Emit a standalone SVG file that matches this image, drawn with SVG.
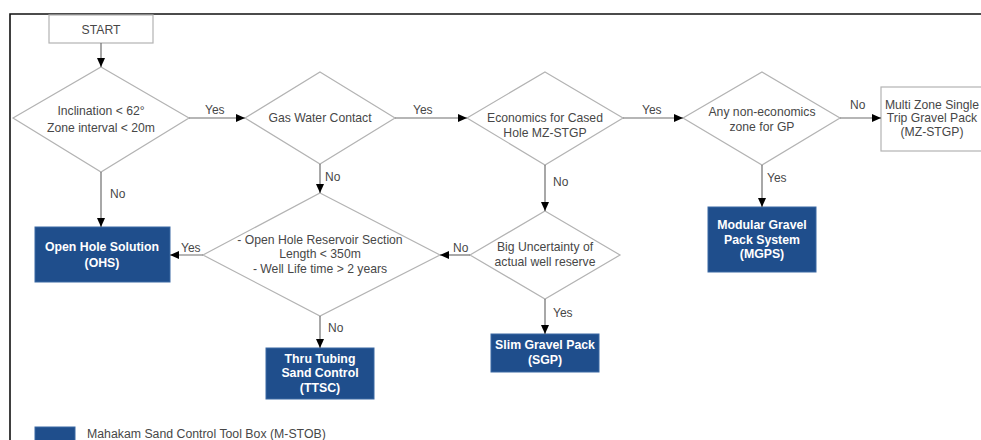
<svg xmlns="http://www.w3.org/2000/svg" width="981" height="440" viewBox="0 0 981 440">
<defs>
<marker id="arr" markerUnits="userSpaceOnUse" markerWidth="10" markerHeight="8" refX="9" refY="4" orient="auto">
<path d="M0,0 L9,4 L0,8 Z" fill="#000"/>
</marker>
<style>
.frame{fill:none;stroke:#111;stroke-width:1.6}
.dia{fill:#fff;stroke:#b3b3b3;stroke-width:1.2}
.box{fill:#fff;stroke:#b3b3b3;stroke-width:1.2}
.tool{fill:#1f4e8c;stroke:#3b68a3;stroke-width:1}
.t{font-family:"Liberation Sans",Arial,sans-serif;font-size:12.2px;fill:#474747;text-anchor:middle}
.tb{font-family:"Liberation Sans",Arial,sans-serif;font-size:12.3px;font-weight:bold;fill:#fff;text-anchor:middle}
.lbl{font-family:"Liberation Sans",Arial,sans-serif;font-size:12px;fill:#474747}
.c{fill:none;stroke:#6e6e6e;stroke-width:1.2;marker-end:url(#arr)}
.leg{font-family:"Liberation Sans",Arial,sans-serif;font-size:12.3px;fill:#474747}
</style>
</defs>
<rect width="981" height="440" fill="#fff"/>
<path class="frame" d="M10,440 L10,14 L985,14"/>

<g id="start">
<rect class="box" x="49" y="15" width="104" height="28"/>
<text class="t" x="101" y="34">START</text>
</g>
<g id="d1">
<polygon class="dia" points="101,67 189,118 101,172 13,118"/>
<text class="t" x="101" y="115">Inclination &lt; 62°</text>
<text class="t" x="101" y="132">Zone interval &lt; 20m</text>
</g>
<g id="d2">
<polygon class="dia" points="320,72 395,118 320,164 245,118"/>
<text class="t" x="320" y="122">Gas Water Contact</text>
</g>
<g id="d3">
<polygon class="dia" points="545,72 623,118 545,165 467,118"/>
<text class="t" x="545" y="122">Economics for Cased</text>
<text class="t" x="545" y="137">Hole MZ-STGP</text>
</g>
<g id="d4">
<polygon class="dia" points="762,72 840,118 762,165 683,118"/>
<text class="t" x="762" y="116">Any non-economics</text>
<text class="t" x="762" y="131">zone for GP</text>
</g>
<g id="mzstgp">
<rect class="box" x="881" y="87" width="106" height="64"/>
<text class="t" x="932" y="109">Multi Zone Single</text>
<text class="t" x="932" y="122">Trip Gravel Pack</text>
<text class="t" x="932" y="136">(MZ-STGP)</text>
</g>
<g id="mgps">
<rect class="tool" x="708" y="207" width="108" height="65"/>
<text class="tb" x="762" y="229">Modular Gravel</text>
<text class="tb" x="762" y="244">Pack System</text>
<text class="tb" x="762" y="258">(MGPS)</text>
</g>
<g id="d5">
<polygon class="dia" points="545,211 620,255 545,299 470,255"/>
<text class="t" x="545" y="251">Big Uncertainty of</text>
<text class="t" x="545" y="266">actual well reserve</text>
</g>
<g id="sgp">
<rect class="tool" x="491" y="334" width="108" height="38"/>
<text class="tb" x="545" y="349">Slim Gravel Pack</text>
<text class="tb" x="545" y="364">(SGP)</text>
</g>
<g id="d6">
<polygon class="dia" points="320,193 440,255 320,316 203,255"/>
<text class="t" x="320" y="244">- Open Hole Reservoir Section</text>
<text class="t" x="320" y="258">Length &lt; 350m</text>
<text class="t" x="320" y="273">- Well Life time &gt; 2 years</text>
</g>
<g id="ohs">
<rect class="tool" x="35" y="227" width="135" height="55"/>
<text class="tb" x="102" y="251">Open Hole Solution</text>
<text class="tb" x="102" y="267">(OHS)</text>
</g>
<g id="ttsc">
<rect class="tool" x="266" y="348" width="108" height="51"/>
<text class="tb" x="320" y="363">Thru Tubing</text>
<text class="tb" x="320" y="377">Sand Control</text>
<text class="tb" x="320" y="392">(TTSC)</text>
</g>

<g id="connectors">
<line class="c" x1="101" y1="43" x2="101" y2="67"/>
<line class="c" x1="189" y1="118" x2="245" y2="118"/>
<line class="c" x1="395" y1="118" x2="467" y2="118"/>
<line class="c" x1="623" y1="118" x2="683" y2="118"/>
<line class="c" x1="840" y1="118" x2="881" y2="118"/>
<line class="c" x1="762" y1="165" x2="762" y2="207"/>
<line class="c" x1="101" y1="172" x2="101" y2="227"/>
<line class="c" x1="320" y1="164" x2="320" y2="193"/>
<line class="c" x1="545" y1="165" x2="545" y2="211"/>
<line class="c" x1="470" y1="255" x2="440" y2="255"/>
<line class="c" x1="203" y1="255" x2="170" y2="255"/>
<line class="c" x1="545" y1="299" x2="545" y2="334"/>
<line class="c" x1="320" y1="316" x2="320" y2="348"/>
<text class="lbl" x="205" y="114">Yes</text>
<text class="lbl" x="413" y="114">Yes</text>
<text class="lbl" x="642" y="114">Yes</text>
<text class="lbl" x="850" y="109">No</text>
<text class="lbl" x="767" y="182">Yes</text>
<text class="lbl" x="110" y="198">No</text>
<text class="lbl" x="325" y="181">No</text>
<text class="lbl" x="553" y="186">No</text>
<text class="lbl" x="453" y="252">No</text>
<text class="lbl" x="181" y="252">Yes</text>
<text class="lbl" x="553" y="317">Yes</text>
<text class="lbl" x="328" y="332">No</text>
</g>

<g id="legend">
<rect class="tool" x="35" y="427" width="40" height="16"/>
<text class="leg" x="87" y="437.5">Mahakam Sand Control Tool Box (M-STOB)</text>
</g>
</svg>
